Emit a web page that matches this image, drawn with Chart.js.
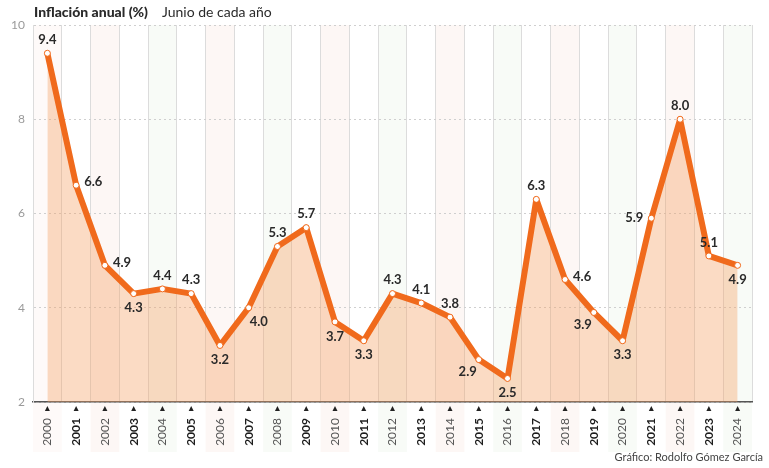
<!DOCTYPE html>
<html>
<head>
<meta charset="utf-8">
<script src="https://cdn.jsdelivr.net/npm/chart.js@4/dist/chart.umd.min.js"></script>
<style>
  html, body { margin:0; padding:0; background:#fff; }
  #wrap { position:relative; width:769px; height:468px; }
  #title { position:absolute; left:34px; top:3px; font-family:Lato, "Open Sans", sans-serif; font-size:14px; color:#2a2a2a; white-space:nowrap; }
  #title b { font-weight:900; margin-right:14px; }
  #credit { position:absolute; right:6px; top:450px; font-family:Lato, "Open Sans", sans-serif; font-size:11px; color:#444; }
  canvas { position:absolute; left:0; top:0; }
</style>
</head>
<body>
<div id="wrap">
  <canvas id="c" width="769" height="468"></canvas>
  <div id="title"><b>Inflación anual (%)</b>Junio de cada año</div>
  <div id="credit">Gráfico: Rodolfo Gómez García</div>
</div>
<script>
const years = ['2000','2001','2002','2003','2004','2005','2006','2007','2008','2009','2010','2011','2012','2013','2014','2015','2016','2017','2018','2019','2020','2021','2022','2023','2024'];
const inflation = [9.4,6.6,4.9,4.3,4.4,4.3,3.2,4.0,5.3,5.7,3.7,3.3,4.3,4.1,3.8,2.9,2.5,6.3,4.6,3.9,3.3,5.9,8.0,5.1,4.9];
const yTicks = [2,4,6,8,10];
const labelSide = ['top','right','right','bottom','top','top','bottom','bottomRight','top','top','bottom','bottom','top','top','top','bottomLeft','bottom','top','right','bottomLeft','bottom','left','top','top','bottom'];

const ORANGE = '#f06a1c';

const stripes = {
  id:'stripes',
  beforeDraw(chart){
    const {ctx, chartArea:a, scales:{x}} = chart;
    const w = x.getPixelForValue(1) - x.getPixelForValue(0);
    ctx.save();
    years.forEach((_, i) => {
      if (i % 2 !== 0) return;
      const cx = x.getPixelForValue(i);
      ctx.fillStyle = (i % 4 === 2) ? 'rgba(240,190,180,0.13)' : 'rgba(200,225,190,0.13)';
      if (i === 0) ctx.fillStyle = 'rgba(240,190,180,0.08)';
      ctx.fillRect(cx - w/2, a.top, w, 402 + 50 - a.top);
    });
    ctx.restore();
  }
};

const extras = {
  id:'extras',
  afterDraw(chart){
    const {ctx, scales:{x, y}} = chart;
    ctx.save();
    ctx.fillStyle = '#222';
    years.forEach((_, i) => {
      const cx = x.getPixelForValue(i);
      const ty = y.bottom + 7;
      ctx.beginPath();
      ctx.moveTo(cx, ty - 3);
      ctx.lineTo(cx + 2.5, ty + 2);
      ctx.lineTo(cx - 2.5, ty + 2);
      ctx.closePath();
      ctx.fill();
    });
    const meta = chart.getDatasetMeta(0);
    ctx.font = 'bold 13px Lato, "Open Sans", sans-serif';
    ctx.fillStyle = '#2a2a2a';
    meta.data.forEach((pt, i) => {
      const txt = inflation[i].toFixed(1);
      let px = pt.x, py = pt.y;
      switch (labelSide[i]) {
        case 'top': ctx.textAlign='center'; ctx.textBaseline='bottom'; py -= 7; break;
        case 'bottom': ctx.textAlign='center'; ctx.textBaseline='top'; py += 8; break;
        case 'right': ctx.textAlign='left'; ctx.textBaseline='middle'; px += 8; py -= 3; break;
        case 'left': ctx.textAlign='right'; ctx.textBaseline='middle'; px -= 8; break;
        case 'bottomRight': ctx.textAlign='left'; ctx.textBaseline='top'; px += 1; py += 8; break;
        case 'bottomLeft': ctx.textAlign='right'; ctx.textBaseline='top'; px -= 2; py += 6; break;
      }
      ctx.fillText(txt, px, py);
    });
    ctx.restore();
  }
};

new Chart(document.getElementById('c'), {
  type:'line',
  data:{
    labels: years,
    datasets:[{
      data: inflation,
      borderColor: ORANGE,
      borderWidth: 6,
      backgroundColor: 'rgba(245,160,100,0.38)',
      fill: 'start',
      tension: 0,
      borderJoinStyle: 'round',
      pointRadius: 3,
      pointBackgroundColor: '#fff',
      pointBorderColor: ORANGE,
      pointBorderWidth: 1,
    }]
  },
  options:{
    responsive:false,
    animation:false,
    layout:{ padding:{ top:25, right:17, left:0, bottom:0 } },
    plugins:{ legend:{display:false}, tooltip:{enabled:false}, title:{display:false} },
    scales:{
      x:{
        offset:true,
        grid:{ offset:true, color:'#dcdcdc', lineWidth:1, drawTicks:false },
        border:{ color:'#555', width:1.5 },
        ticks:{
          autoSkip:false, minRotation:90, maxRotation:90, padding:16,
          font:(c)=> ({ family:'Lato, "Open Sans", sans-serif', size:12, weight: (c.index % 2 === 1) ? 'bold' : 'normal' }),
          color:(c)=> (c.index % 2 === 1) ? '#1e1e1e' : '#555'
        },
        afterFit(s){ s.height = 66; }
      },
      y:{
        min:2, max:10,
        afterBuildTicks(s){ s.ticks = yTicks.map(v => ({value:v})); },
        grid:{ color:'#cfcfcf', drawTicks:false },
        border:{ display:true, color:'#dcdcdc', dash:[2,3] },
        ticks:{ padding:8, color:'#9a9a9a', font:{ family:'Lato, "Open Sans", sans-serif', size:12 } },
        afterFit(s){ s.width = 33; }
      }
    }
  },
  plugins:[stripes, extras]
});
</script>
</body>
</html>
